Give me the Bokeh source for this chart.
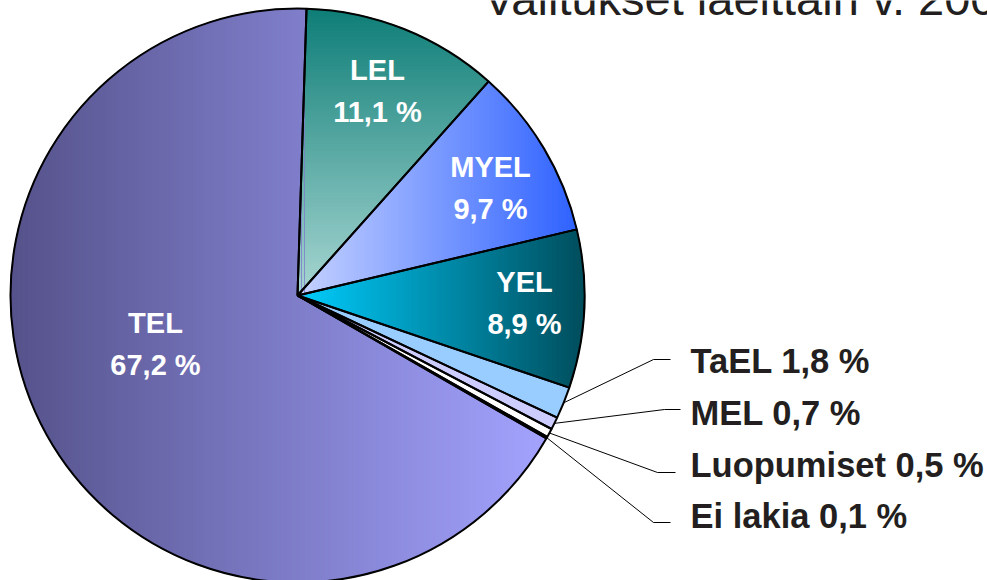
import numpy as np
from bokeh.plotting import figure
from bokeh.models import Range1d
from bokeh.core.properties import value
from bokeh.embed import file_html
from bokeh.resources import INLINE

# ---------------- data ----------------
title_text = "Valitukset laeittain v. 200"
labels = ["LEL", "MYEL", "YEL", "TaEL", "MEL", "Luopumiset", "Ei lakia", "TEL"]
shares = [11.1, 9.7, 8.9, 1.8, 0.7, 0.5, 0.1, 67.2]
pct_text = ["11,1 %", "9,7 %", "8,9 %", "1,8 %", "0,7 %", "0,5 %", "0,1 %", "67,2 %"]

# ---------------- style / layout ----------------
W, H = 987, 580
CX, CY, R = 297, 295, 287          # pie centre / radius in page pixels
START = 1.8                          # first slice starts this many degrees clockwise from 12 o'clock
FONT = value("Liberation Sans")
DARK = "#231f20"
BASE_K = 0.35                        # rendered baseline offset, in em

base_colors = {"LEL": "#4f9a95", "MYEL": "#7f9cff", "YEL": "#0090b0", "TaEL": "#99ccff",
               "MEL": "#ccccff", "Luopumiset": "#ffffff", "Ei lakia": "#ffffff", "TEL": "#7b7bc8"}
gradients = {"TEL": (0, "#55528b", "#a3a3ff"),
             "LEL": (1, "#0e7e77", "#a8d6d2"),
             "MYEL": (0, "#c6d2ff", "#2f62ff"),
             "YEL": (0, "#00cdfd", "#004d5c")}
inside_pos = {"LEL": (377, 80), "MYEL": (490, 177), "YEL": (524, 292), "TEL": (155, 333)}
inside_fs = 29
outside_labels = ["TaEL", "MEL", "Luopumiset", "Ei lakia"]
outside_x = 690
outside_fs = 34.5
outside_base = [373, 425, 477, 528]
leader_y = [359, 409, 472, 522]
leader_elbow_x = [653, 664, 657, 653]
leader_end_x = [670, 680, 675, 670]
title_fs = 47


def to_y(py):
    return -py


def text_y(baseline, fs):
    return to_y(baseline - BASE_K * fs)


p = figure(width=W, height=H, output_backend="svg", toolbar_location=None,
           x_range=Range1d(0, W), y_range=Range1d(-H, 0), min_border=0)
p.axis.visible = False
p.grid.visible = False
p.outline_line_color = None
p.background_fill_color = "white"

cum = np.concatenate([[0.0], np.cumsum(shares)])
cw0 = START + cum[:-1] * 3.6
cw1 = START + cum[1:] * 3.6
start_ang = np.radians(90 - cw1)
end_ang = np.radians(90 - cw0)

# base solid slices
p.wedge(x=[CX] * len(labels), y=[to_y(CY)] * len(labels), radius=R,
        start_angle=list(start_ang), end_angle=list(end_ang),
        fill_color=[base_colors[l] for l in labels], line_color=None)


def hex2rgb(h):
    h = h.lstrip("#")
    return np.array([int(h[i:i + 2], 16) for i in (0, 2, 4)], dtype=float)


def rgb2hex(c):
    c = np.clip(np.round(c), 0, 255).astype(int)
    return "#%02x%02x%02x" % tuple(c)


def clip_half(pts, f):
    out = []
    n = len(pts)
    for i in range(n):
        a, b = pts[i], pts[(i + 1) % n]
        fa, fb = f(a), f(b)
        if fa >= 0:
            out.append(a)
        if (fa >= 0) != (fb >= 0):
            t = fa / (fa - fb)
            out.append((a[0] + t * (b[0] - a[0]), a[1] + t * (b[1] - a[1])))
    return out


# gradient fills, built as thin bands of each slice
gx, gy, gc = [], [], []
for i, lab in enumerate(labels):
    if lab not in gradients:
        continue
    k, c0, c1 = gradients[lab]
    th = np.radians(np.linspace(cw0[i], cw1[i], 200))
    poly = [(CX, CY)] + [(CX + R * np.sin(t), CY - R * np.cos(t)) for t in th]
    coords = np.array([q[k] for q in poly])
    lo, hi = coords.min(), coords.max()
    a0, a1 = hex2rgb(c0), hex2rgb(c1)
    step = 3.0
    v = lo
    while v < hi:
        band = clip_half(poly, lambda q, v=v: q[k] - v)
        band = clip_half(band, lambda q, v=v: (v + step + 0.6) - q[k])
        if len(band) >= 3:
            t = min(max((v + step / 2 - lo) / (hi - lo), 0), 1)
            col = rgb2hex(a0 + (a1 - a0) * t)
            gx.append([q[0] for q in band])
            gy.append([to_y(q[1]) for q in band])
            gc.append(col)
        v += step
p.patches(gx, gy, fill_color=gc, line_color=gc, line_width=0.6)

# slice outlines
p.wedge(x=[CX] * len(labels), y=[to_y(CY)] * len(labels), radius=R,
        start_angle=list(start_ang), end_angle=list(end_ang),
        fill_color=None, line_color="black", line_width=2)

# inside labels
for lab, (x, yb) in inside_pos.items():
    i = labels.index(lab)
    p.text(x=[x, x], y=[text_y(yb, inside_fs), text_y(yb + 42, inside_fs)], text=[lab, pct_text[i]],
           text_font=FONT, text_font_style="bold", text_font_size=f"{inside_fs}px",
           text_color="white", text_align="center", text_baseline="alphabetic")

# outside labels with leader lines
mid = (cw0 + cw1) / 2
lx, ly = [], []
for j, lab in enumerate(outside_labels):
    i = labels.index(lab)
    ang = np.radians(mid[i])
    sx, sy = CX + R * np.sin(ang), CY - R * np.cos(ang)
    lx.append([sx, leader_elbow_x[j], leader_end_x[j]])
    ly.append([to_y(sy), to_y(leader_y[j]), to_y(leader_y[j])])
    p.text(x=[outside_x], y=[text_y(outside_base[j], outside_fs)], text=[f"{lab} {pct_text[i]}"],
           text_font=FONT, text_font_style="bold", text_font_size=f"{outside_fs}px",
           text_color=DARK, text_align="left", text_baseline="alphabetic")
p.multi_line(lx, ly, line_color="black", line_width=1)

# title (cut off by the top edge, as in the source)
p.text(x=[483], y=[text_y(14, title_fs)], text=[title_text], text_font=FONT,
       text_font_size=f"{title_fs}px", text_color=DARK, text_align="left",
       text_baseline="alphabetic")

open("out.html", "w").write(file_html(p, INLINE))
